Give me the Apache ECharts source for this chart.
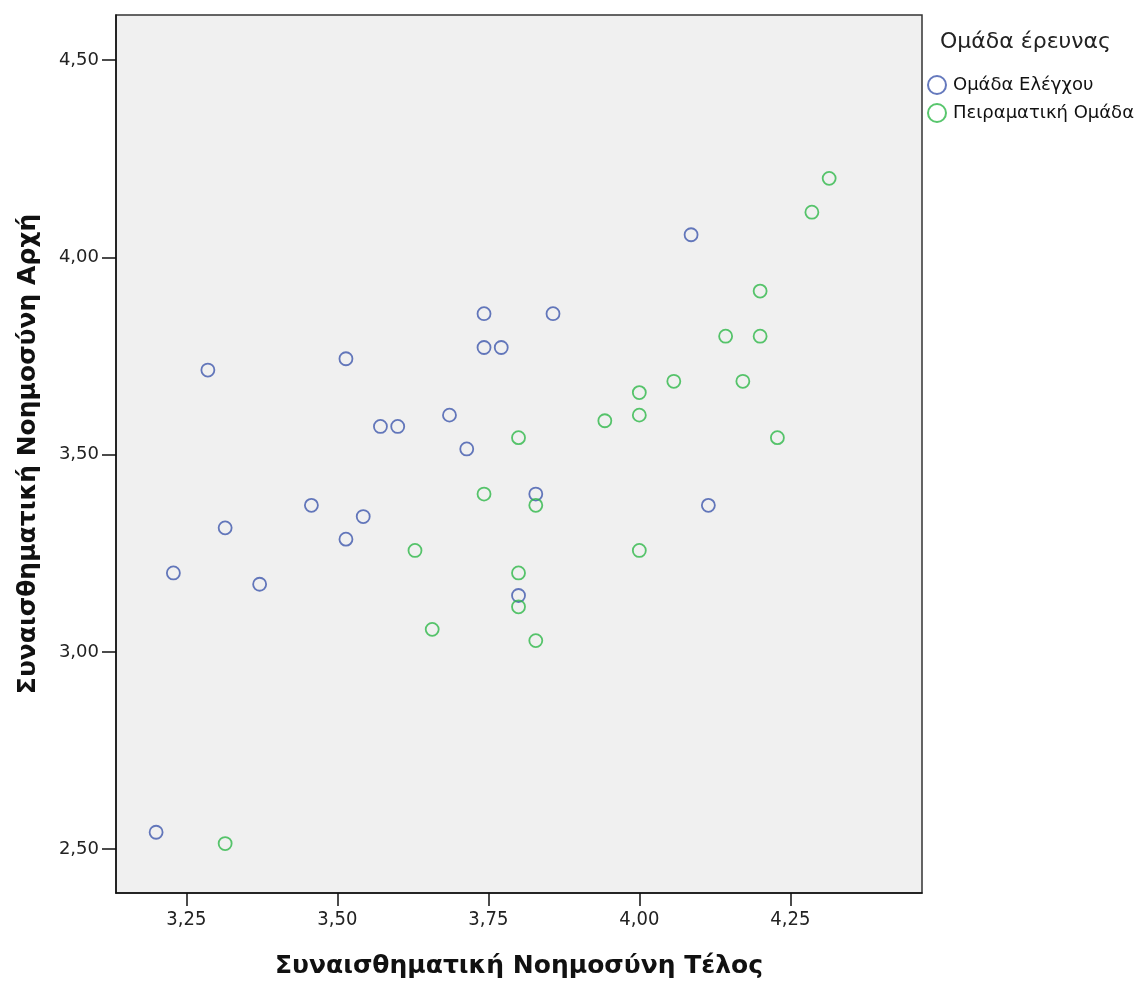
<!DOCTYPE html>
<html>
<head>
<meta charset="utf-8">
<script src="https://cdn.jsdelivr.net/npm/echarts@6/dist/echarts.min.js"></script>
<style>html,body{margin:0;padding:0;background:#fff;}#c{width:1137px;height:984px;}</style>
</head>
<body>
<div id="c"></div>
<script>
// Series names
const seriesNames = ['Ομάδα Ελέγχου', 'Πειραματική Ομάδα'];
// Control group (x = Τέλος, y = Αρχή)
const controlX = [3.2857, 3.5143, 3.5714, 3.6000, 3.4571, 3.5429, 3.5143, 3.3143, 3.2286, 3.3714, 3.7429, 3.8571, 3.7429, 3.7714, 3.6857, 3.7143, 3.8286, 4.1143, 3.8000, 4.0857, 3.2000];
const controlY = [3.7143, 3.7429, 3.5714, 3.5714, 3.3714, 3.3429, 3.2857, 3.3143, 3.2000, 3.1714, 3.8571, 3.8571, 3.7714, 3.7714, 3.6000, 3.5143, 3.4000, 3.3714, 3.1429, 4.0571, 2.5429];
// Experimental group
const expX = [3.6286, 4.2000, 4.1429, 4.2000, 4.0571, 4.1714, 4.0000, 4.0000, 3.9429, 4.2286, 3.8000, 3.7429, 3.8286, 4.0000, 3.8000, 3.8000, 3.6571, 3.8286, 4.3143, 4.2857, 3.3143];
const expY = [3.2571, 3.9143, 3.8000, 3.8000, 3.6857, 3.6857, 3.6571, 3.6000, 3.5857, 3.5429, 3.5429, 3.4000, 3.3714, 3.2571, 3.2000, 3.1143, 3.0571, 3.0286, 4.2000, 4.1143, 2.5143];
// Tick labels
const xTicks = [3.25, 3.50, 3.75, 4.00, 4.25];
const yTicks = [2.50, 3.00, 3.50, 4.00, 4.50];
const xTitle = 'Συναισθηματική Νοημοσύνη Τέλος';
const yTitle = 'Συναισθηματική Νοημοσύνη Αρχή';
const legendTitle = 'Ομάδα έρευνας';

const fmt = v => Number(v).toFixed(2).replace('.', ',');
const pairs = (xs, ys) => xs.map((x, i) => [x, ys[i]]);
const colors = ['#3e58ac', '#2eb848'];

const chart = echarts.init(document.getElementById('c'));
chart.setOption({
  backgroundColor: '#ffffff',
  animation: false,
  title: {
    text: legendTitle,
    left: 940, top: 31, padding: 0,
    textStyle: {fontFamily: 'DejaVu Sans', fontSize: 22, fontWeight: 'normal', color: '#222'}
  },
  legend: {
    orient: 'vertical',
    left: 927, top: 75, padding: 0,
    itemWidth: 18, itemHeight: 18, itemGap: 8,
    icon: 'circle',
    textStyle: {fontFamily: 'DejaVu Sans', fontSize: 18, color: '#111', padding: [0,0,0,2]},
    data: seriesNames
  },
  grid: {
    left: 116, top: 15, right: 215, bottom: 91,
    show: true, backgroundColor: '#f0f0f0', borderColor: '#333', borderWidth: 1.5
  },
  xAxis: {
    type: 'value', min: 3.1336, max: 4.468,
    name: xTitle, nameLocation: 'middle', nameGap: 61,
    nameTextStyle: {fontFamily: 'DejaVu Sans', fontSize: 25, fontWeight: 'bold', color: '#111'},
    axisLine: {show: true, lineStyle: {color: '#111', width: 1.5}},
    axisTick: {show: true, length: 13, lineStyle: {color: '#111', width: 1.5}, customValues: xTicks},
    axisLabel: {customValues: xTicks, formatter: fmt, margin: 17, fontFamily: 'DejaVu Sans Condensed, DejaVu Sans', fontSize: 20, color: '#222'},
    splitLine: {show: false}
  },
  yAxis: {
    type: 'value', min: 2.389, max: 4.614,
    name: yTitle, nameLocation: 'middle', nameGap: 75,
    nameTextStyle: {fontFamily: 'DejaVu Sans', fontSize: 25, fontWeight: 'bold', color: '#111'},
    axisLine: {show: true, lineStyle: {color: '#111', width: 1.5}},
    axisTick: {show: true, length: 14, lineStyle: {color: '#111', width: 1.5}, customValues: yTicks},
    axisLabel: {customValues: yTicks, formatter: fmt, margin: 17, fontFamily: 'DejaVu Sans', fontSize: 18, color: '#222'},
    splitLine: {show: false}
  },
  series: [
    {
      name: seriesNames[0], type: 'scatter', symbol: 'circle', symbolSize: 13,
      itemStyle: {color: 'rgba(0,0,0,0)', borderColor: colors[0], borderWidth: 1.8},
      data: pairs(controlX, controlY)
    },
    {
      name: seriesNames[1], type: 'scatter', symbol: 'circle', symbolSize: 13,
      itemStyle: {color: 'rgba(0,0,0,0)', borderColor: colors[1], borderWidth: 1.8},
      data: pairs(expX, expY)
    }
  ]
});
</script>
</body>
</html>
